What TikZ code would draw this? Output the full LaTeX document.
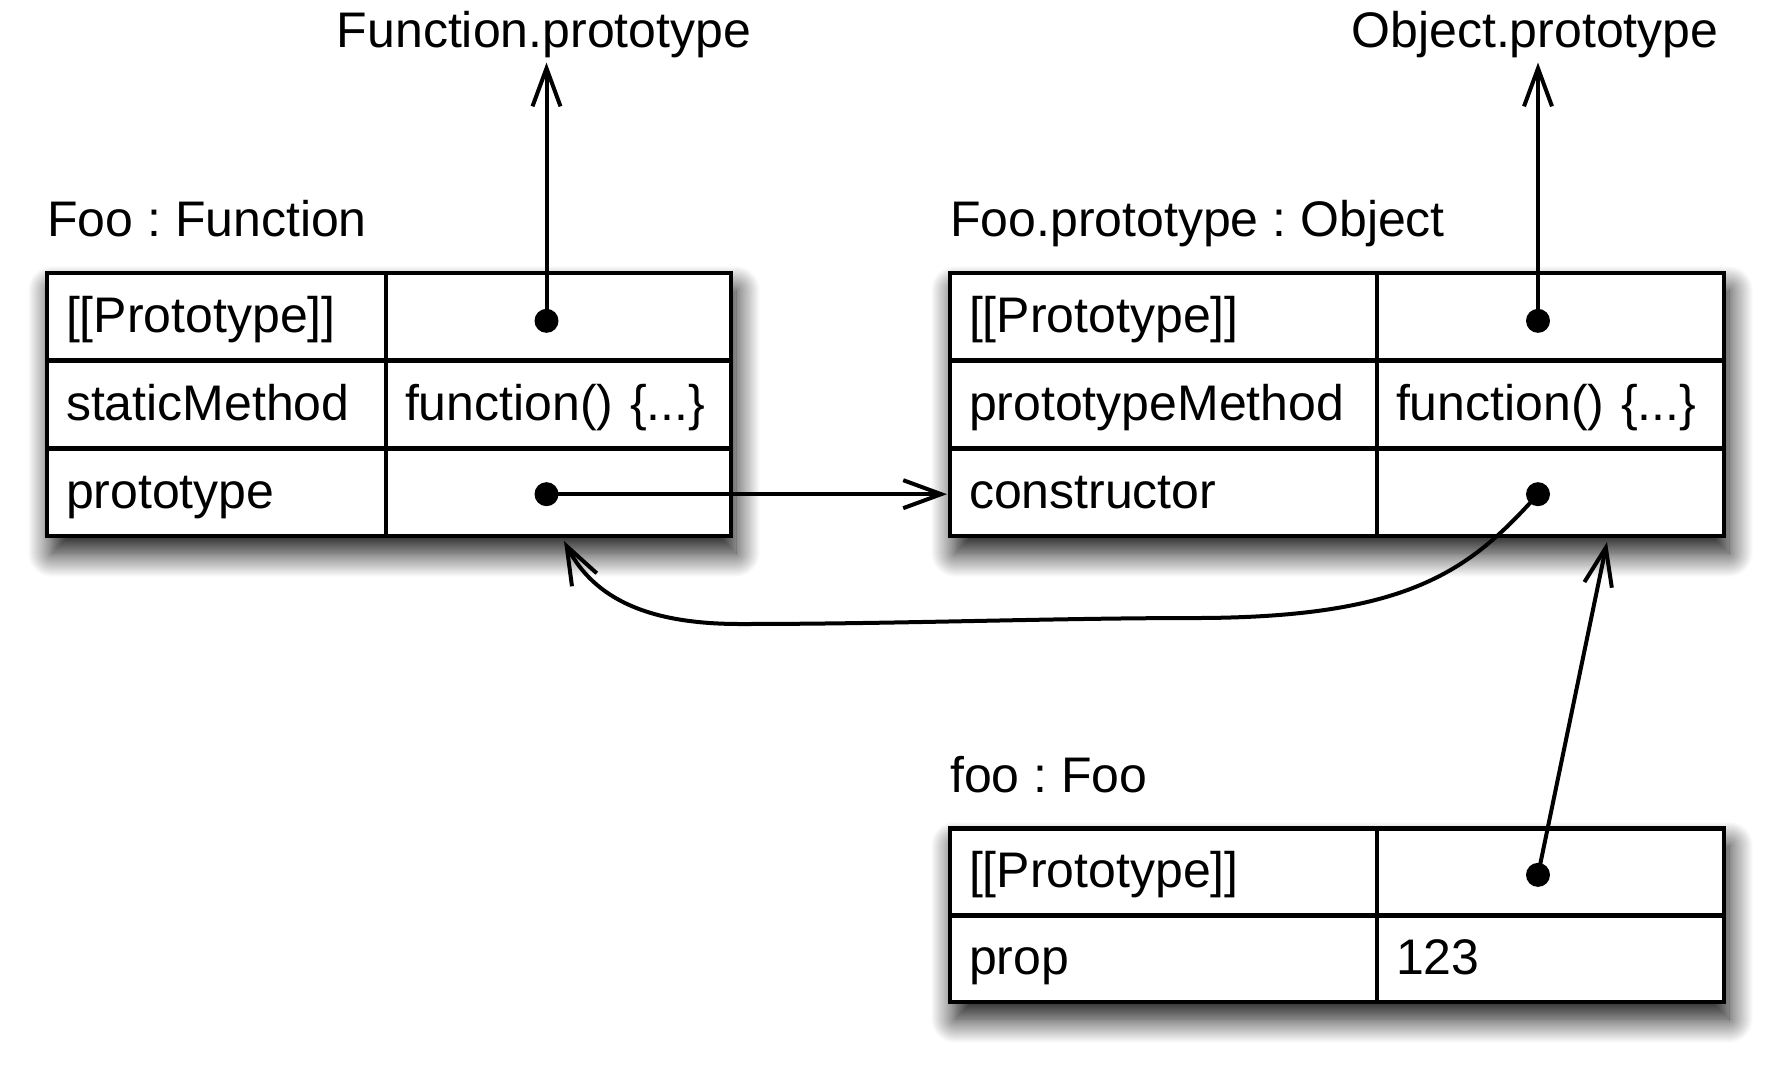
\documentclass[tikz,border=0pt]{standalone}
\usepackage{fontspec}
\setmainfont{Liberation Sans}
\usetikzlibrary{arrows.meta,calc,shadows.blur}
\frenchspacing
\begin{document}
\begin{tikzpicture}[x=1pt,y=-1pt,
  font=\fontsize{50}{60}\selectfont,
  frame/.style={draw, line width=4.5pt, fill=white, anchor=north west, inner sep=0pt, outer sep=0pt,
    blur shadow={shadow xshift=5pt, shadow yshift=-17pt, shadow blur radius=24pt, shadow opacity=95, shadow blur steps=24}},
  cell/.style={draw, line width=4.5pt, anchor=north west, inner xsep=19pt, inner ysep=0pt, outer sep=0pt,
    text height=36pt, text depth=4pt, align=left, minimum height=87.67pt},
  kA/.style={cell, text width=301pt},
  vA/.style={cell, text width=307pt},
  kB/.style={cell, text width=389pt},
  vB/.style={cell, text width=309pt},
  kC/.style={kB, minimum height=86.75pt},
  vC/.style={vB, minimum height=86.75pt},
  title/.style={anchor=base west, inner sep=0pt},
  target/.style={anchor=base, inner xsep=0pt, inner ysep=5pt},
  dot/.style={circle, fill=black, inner sep=0pt, minimum size=24pt},
  ptr/.style={line width=4pt, -{Straight Barb[length=38pt,width=28pt,line width=4pt]}},
]
\useasboundingbox (0,0) rectangle (1770,1066);

% targets
\node[target] (fp) at (544,47) {Function.prototype};
\node[target] (op) at (1535,47) {Object.prototype};

% titles
\node[title] (t1) at (47,236.7) {Foo : Function};
\node[title] (t2) at (950,236.7) {Foo.prototype : Object};
\node[title] (t3) at (950,792) {foo : Foo};

% box 1
\node[frame, minimum width=684pt, minimum height=263pt] (b1) at (47,273) {};
\node[kA] (f1k1) at (47,273) {[[Prototype]]};
\node[vA] (f1v1) at (f1k1.north east) {};
\node[kA] (f1k2) at (f1k1.south west) {staticMethod};
\node[vA] (f1v2) at (f1k2.north east) {function() \{...\}};
\node[kA] (f1k3) at (f1k2.south west) {prototype};
\node[vA] (f1v3) at (f1k3.north east) {};

% box 2
\node[frame, minimum width=774pt, minimum height=263pt] (b2) at (950,273) {};
\node[kB] (f2k1) at (950,273) {[[Prototype]]};
\node[vB] (f2v1) at (f2k1.north east) {};
\node[kB] (f2k2) at (f2k1.south west) {prototypeMethod};
\node[vB] (f2v2) at (f2k2.north east) {function() \{...\}};
\node[kB] (f2k3) at (f2k2.south west) {constructor};
\node[vB] (f2v3) at (f2k3.north east) {};

% box 3
\node[frame, minimum width=774pt, minimum height=173.5pt] (b3) at (950,828.5) {};
\node[kC] (f3k1) at (950,828.5) {[[Prototype]]};
\node[vC] (f3v1) at (f3k1.north east) {};
\node[kC] (f3k2) at (f3k1.south west) {prop};
\node[vC] (f3v2) at (f3k2.north east) {123};

% dots
\node[dot] (d1) at ($(f1v1.center)+(-12,4)$) {};
\node[dot] (d1b) at ($(f1v3.center)+(-12,2)$) {};
\node[dot] (d2) at ($(f2v1.center)+(-12.5,4)$) {};
\node[dot] (d2b) at ($(f2v3.center)+(-12.5,2)$) {};
\node[dot] (d3) at ($(f3v1.center)+(-12.5,3)$) {};

\coordinate (cend) at ($(f1v3.south)+(5.5,5)$);
\coordinate (fend) at ($(f2v3.south)+(56.5,6)$);

% connectors
\draw[ptr] (d1.center) -- (fp.south -| d1.center);
\draw[ptr] (d2.center) -- (op.south -| d2.center);
\draw[ptr, shorten >=3pt] (d1b.center) -- (d1b.center -| f2k3.west);
\draw[ptr] (d2b.center) .. controls (1470,570) and (1410,617) .. (1200,618)
  .. controls (1050,618) and (900,624) .. (740,624)
  .. controls (650,624) and (595,600) .. (cend);
\draw[ptr] (d3.center) -- (fend);
\end{tikzpicture}
\end{document}
